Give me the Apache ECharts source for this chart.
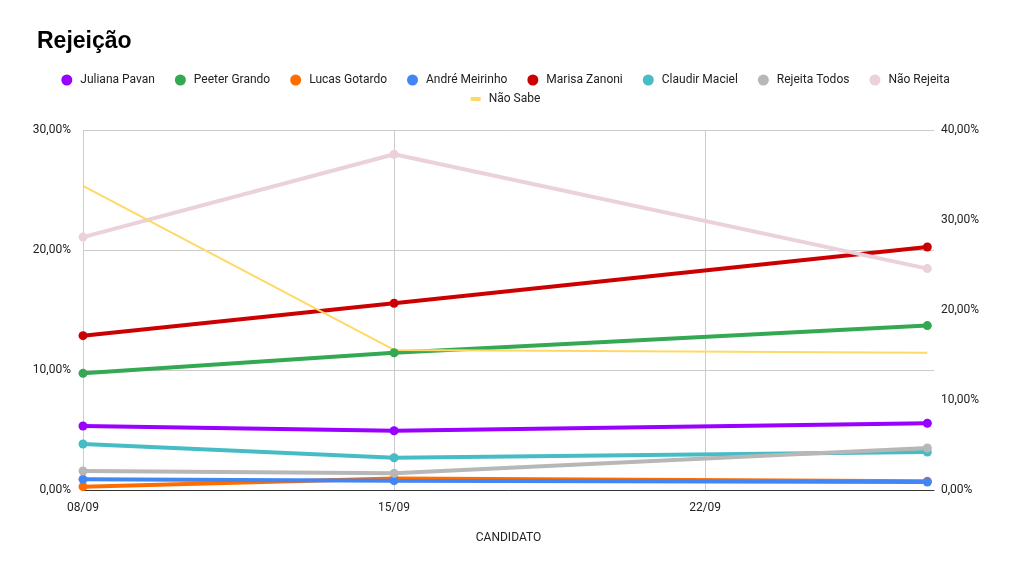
<!DOCTYPE html>
<html><head><meta charset="utf-8">
<script src="https://cdn.jsdelivr.net/npm/echarts@6/dist/echarts.min.js"></script>
<style>html,body{margin:0;padding:0;background:#fff}#c{width:1011px;height:572px}</style>
</head><body><div id="c"></div>
<script>
var dates = ['08/09', '15/09', '27/09'];
var xTickLabels = ['08/09', '15/09', '22/09'];
var leftTicks = [0, 10, 20, 30];
var rightTicks = [0, 10, 20, 30, 40];
var julianaPavan = [5.33, 4.94, 5.56];
var peeterGrando = [9.72, 11.44, 13.70];
var lucasGotardo = [0.28, 0.95, 0.72];
var andreMeirinho = [0.89, 0.78, 0.67];
var marisaZanoni = [12.86, 15.56, 20.25];
var claudirMaciel = [3.83, 2.69, 3.17];
var rejeitaTodos = [1.58, 1.39, 3.50];
var naoRejeita = [28.1, 37.3, 24.6];
var naoSabe = [33.8, 15.56, 15.26];

function dayOffset(s) {
  var p = s.split('/');
  var t = Date.UTC(2024, +p[1] - 1, +p[0]);
  var p0 = dates[0].split('/');
  var t0 = Date.UTC(2024, +p0[1] - 1, +p0[0]);
  return Math.round((t - t0) / 86400000);
}
var xs = dates.map(dayOffset);
function pts(vals) { return vals.map(function (v, i) { return [xs[i], v]; }); }

var font = 'Roboto, Arial, sans-serif';
var seriesDefs = [
  ['Juliana Pavan', julianaPavan, '#9900ff', 0],
  ['Peeter Grando', peeterGrando, '#34a853', 0],
  ['Lucas Gotardo', lucasGotardo, '#ff6d01', 0],
  ['André Meirinho', andreMeirinho, '#4285f4', 0],
  ['Marisa Zanoni', marisaZanoni, '#cc0000', 0],
  ['Claudir Maciel', claudirMaciel, '#46bdc6', 0],
  ['Rejeita Todos', rejeitaTodos, '#b7b7b7', 0],
  ['Não Rejeita', naoRejeita, '#ead1dc', 1]
];
var series = seriesDefs.map(function (d) {
  return {
    name: d[0], type: 'line', yAxisIndex: d[3], data: pts(d[1]),
    symbol: 'circle', symbolSize: 9, showSymbol: true,
    lineStyle: { width: 4, color: d[2] }, itemStyle: { color: d[2] },
    emphasis: { disabled: true }
  };
});
series.push({
  name: 'Não Sabe', type: 'line', yAxisIndex: 1, data: pts(naoSabe),
  showSymbol: false, symbol: 'none',
  lineStyle: { width: 2, color: '#ffd966' }, itemStyle: { color: '#ffd966' },
  emphasis: { disabled: true }
});

function pct(v) { return v.toFixed(2).replace('.', ',') + '%'; }

var chart = echarts.init(document.getElementById('c'));
chart.setOption({
  animation: false,
  backgroundColor: '#fff',
  title: {
    text: 'Rejeição', left: 32, top: 25,
    textStyle: { fontFamily: 'Arial, Liberation Sans, sans-serif', fontWeight: 'bold', fontSize: 23, color: '#000' }
  },
  legend: [{
    data: seriesDefs.map(function (d) { return d[0]; }),
    left: 'center', top: 69, itemGap: 20, itemWidth: 11, itemHeight: 11, icon: 'circle',
    textStyle: { fontFamily: font, fontSize: 12, color: '#222', padding: [0, 0, 0, 3] }
  }, {
    data: [{ name: 'Não Sabe', icon: 'rect' }],
    left: 'center', top: 88, itemWidth: 10, itemHeight: 4,
    textStyle: { fontFamily: font, fontSize: 12, color: '#222', padding: [0, 0, 0, 3] }
  }],
  grid: { left: 83, right: 77, top: 130, bottom: 82, containLabel: false },
  xAxis: {
    type: 'value', min: 0, max: 19.15, interval: 7,
    name: 'CANDIDATO', nameLocation: 'middle', nameGap: 42,
    nameTextStyle: { fontFamily: font, fontSize: 12, color: '#222' },
    axisLine: { show: true, lineStyle: { color: '#333', width: 1 } },
    axisTick: { show: false },
    axisLabel: {
      fontFamily: font, fontSize: 12, color: '#222', margin: 12, showMaxLabel: false,
      formatter: function (v) { var i = Math.round(v / 7); return (Math.abs(v - i * 7) < 1e-6 && xTickLabels[i]) ? xTickLabels[i] : ''; }
    },
    splitLine: { show: true, showMaxLine: false, lineStyle: { color: '#cccccc', width: 1 } }
  },
  yAxis: [{
    type: 'value', min: leftTicks[0], max: leftTicks[leftTicks.length - 1], interval: 10,
    axisLine: { show: false }, axisTick: { show: false },
    axisLabel: { fontFamily: font, fontSize: 12, color: '#222', margin: 12, formatter: pct },
    splitLine: { show: true, lineStyle: { color: '#cccccc', width: 1 } }
  }, {
    type: 'value', min: rightTicks[0], max: rightTicks[rightTicks.length - 1], interval: 10,
    position: 'right',
    axisLine: { show: false }, axisTick: { show: false },
    axisLabel: { fontFamily: font, fontSize: 12, color: '#222', margin: 7, formatter: pct },
    splitLine: { show: false }
  }],
  series: series
});
</script></body></html>
